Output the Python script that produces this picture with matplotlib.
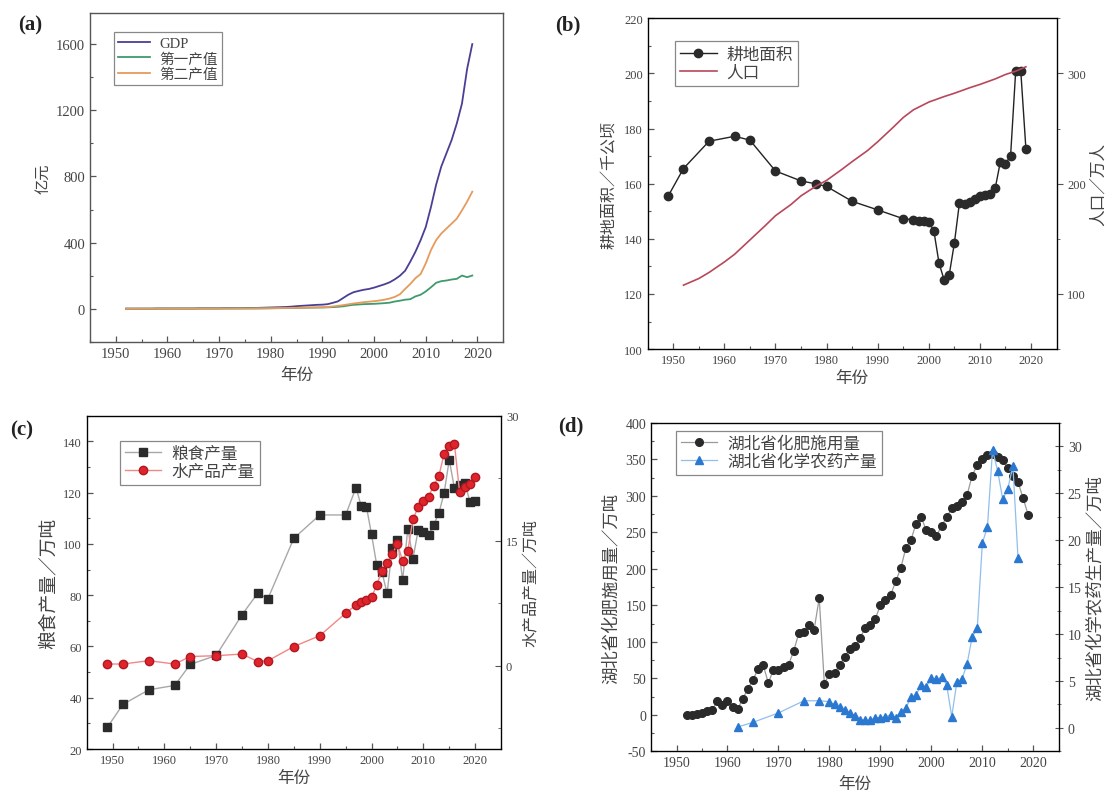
import numpy as np
import matplotlib.pyplot as plt
from matplotlib.ticker import MultipleLocator

plt.rcParams['font.family'] = ['Liberation Serif', 'Noto Sans CJK SC']
plt.rcParams['axes.unicode_minus'] = False

# (a) GDP and sector output, 亿元
years_a = list(range(1952, 2020))
gdp = [1, 1, 1, 1, 1, 1, 2, 2, 2, 2,
       2, 2, 2, 2, 3, 3, 3, 3, 3, 4,
       4, 4, 4, 5, 5, 5, 6, 7, 8, 9,
       10, 11, 13, 16, 18, 20, 22, 24, 25, 28,
       36, 45, 65, 85, 100, 108, 115, 120, 128, 138,
       148, 160, 178, 200, 230, 285, 345, 415, 495, 615,
       750, 860, 940, 1020, 1120, 1240, 1450, 1600]
primary = [0.5, 0.5, 0.6, 0.6, 0.7, 0.7, 0.8, 0.8, 0.8, 0.9,
           0.9, 1, 1, 1.1, 1.1, 1.2, 1.2, 1.3, 1.3, 1.4,
           1.4, 1.5, 1.6, 1.7, 1.8, 1.9, 2, 2.5, 3, 3.5,
           4, 4.5, 5, 5.5, 6, 6.5, 7, 7.5, 8, 9,
           10, 12, 15, 20, 24, 26, 28, 29, 30, 32,
           34, 37, 44, 49, 55, 58, 75, 85, 105, 130,
           157, 167, 171, 177, 181, 201, 191, 201]
secondary = [0.3, 0.3, 0.4, 0.4, 0.5, 0.5, 0.8, 0.9, 0.9, 0.7,
             0.7, 0.8, 0.9, 1, 1.1, 1.1, 1.1, 1.3, 1.5, 1.7,
             1.8, 2, 2.1, 2.3, 2.4, 2.6, 3, 3.3, 3.6, 4,
             4.5, 5, 5.5, 6, 6.5, 7, 8, 8.5, 9, 10,
             14, 18, 22, 27, 32, 36, 40, 43, 46, 50,
             55, 62, 72, 88, 120, 150, 185, 210, 275, 355,
             415, 455, 485, 515, 545, 595, 648, 708]

# (b) cultivated land (千公顷) and population (万人)
land_years = [1949, 1952, 1957, 1962, 1965, 1970, 1975, 1978, 1980, 1985,
              1990, 1995, 1997, 1998, 1999, 2000, 2001, 2002, 2003, 2004,
              2005, 2006, 2007, 2008, 2009, 2010, 2011, 2012, 2013, 2014,
              2015, 2016, 2017, 2018, 2019]
land = [155.5, 165.5, 175.4, 177.2, 175.8, 164.6, 161, 159.9, 159, 153.6,
        150.5, 147.3, 146.9, 146.5, 146.3, 146.2, 142.8, 131.2, 125.1, 127,
        138.4, 153.1, 152.7, 153.3, 154.3, 155.5, 156, 156.4, 158.4, 167.9,
        167.3, 170, 200.8, 200.8, 172.7]
pop_years = [1952, 1955, 1957, 1960, 1962, 1965, 1968, 1970, 1973, 1975,
             1978, 1980, 1983, 1985, 1988, 1990, 1993, 1995, 1997, 2000,
             2003, 2005, 2008, 2010, 2013, 2015, 2017, 2019]
pop = [108, 114, 119.5, 129, 136, 149, 162, 171, 181, 189,
       198, 203, 213, 220, 230, 238, 251, 260, 267, 274,
       279, 282, 287, 290, 295, 299, 302, 306]

# (c) grain (万吨) and aquatic products (万吨)
food_years = [1949, 1952, 1957, 1962, 1965, 1970, 1975, 1978, 1980, 1985,
              1990, 1995, 1997, 1998, 1999, 2000, 2001, 2002, 2003, 2004,
              2005, 2006, 2007, 2008, 2009, 2010, 2011, 2012, 2013, 2014,
              2015, 2016, 2017, 2018, 2019, 2020]
grain = [28.5, 37.4, 43.1, 44.8, 53, 56.5, 72.4, 80.7, 78.7, 102.2,
         111.3, 111.3, 122, 114.8, 114.6, 103.7, 91.7, 89, 80.7, 98.5,
         101.5, 85.9, 106, 94.3, 105.4, 104.5, 103.5, 107.5, 112, 119.8,
         132.8, 121.7, 123, 123.7, 116.5, 116.8]
fish = [0.2, 0.2, 0.6, 0.2, 1.1, 1.2, 1.4, 0.5, 0.6, 2.3,
        3.6, 6.3, 7.3, 7.7, 7.9, 8.2, 9.7, 11.4, 12.3, 13.4,
        14.6, 12.6, 13.8, 17.6, 19, 19.8, 20.3, 21.6, 22.8, 25.4,
        26.4, 26.6, 20.8, 21.4, 21.8, 22.6]

# (d) fertilizer use (万吨) and pesticide production (万吨)
fert_years = list(range(1952, 2020))
fert = [0, 0, 1, 3, 5, 7, 18.5, 14, 18.5, 10.6,
        8.3, 22, 36, 48, 63, 68.5, 44, 61.6, 61.6, 65,
        69, 88, 112, 114, 123, 117, 160, 43, 56, 58,
        68, 80, 90, 94, 105, 119, 123, 132, 150, 157,
        164, 183, 201, 229, 240, 262, 271, 253, 250, 245,
        259, 271, 283, 286, 292, 301, 328, 342, 351, 356,
        358, 354, 349, 338, 328, 319, 297, 274]
pest_years = [1962, 1965, 1970, 1975, 1978, 1980, 1981, 1982, 1983, 1984,
              1985, 1986, 1987, 1988, 1989, 1990, 1991, 1992, 1993, 1994,
              1995, 1996, 1997, 1998, 1999, 2000, 2001, 2002, 2003, 2004,
              2005, 2006, 2007, 2008, 2009, 2010, 2011, 2012, 2013, 2014,
              2015, 2016, 2017]
pest = [0.1, 0.6, 1.6, 2.9, 2.9, 2.8, 2.5, 2.2, 1.9, 1.6,
        1.3, 0.9, 0.8, 0.8, 1.1, 1.1, 1.2, 1.4, 1.1, 1.7,
        2.1, 3.3, 3.5, 4.6, 4.4, 5.3, 5.2, 5.4, 4.6, 1.2,
        4.9, 5.2, 6.8, 9.7, 10.6, 19.7, 21.4, 29.6, 27.4, 24.4,
        25.5, 27.9, 18.1]

TXT = '#444444'


def style(ax, size):
    ax.tick_params(which='both', direction='in', labelsize=size, colors='#555555',
                   labelcolor=TXT)
    ax.tick_params(which='major', length=4, width=0.9)
    ax.tick_params(which='minor', length=2.5, width=0.8)
    for s in ax.spines.values():
        s.set_color('#555555')
        s.set_linewidth(1.0)
    ax.set_xlim(1945, 2025)
    ax.xaxis.set_major_locator(MultipleLocator(10))
    ax.xaxis.set_minor_locator(MultipleLocator(5))


def legend(ax, handles, labels, anchor, size):
    lg = ax.legend(handles, labels, loc='upper left', bbox_to_anchor=anchor,
                   fontsize=size, frameon=True, fancybox=False, framealpha=1,
                   edgecolor='#888888', borderpad=0.3, labelspacing=0.15,
                   handlelength=2.2, handletextpad=0.6, borderaxespad=0)
    for t in lg.get_texts():
        t.set_color(TXT)
    lg.get_frame().set_linewidth(0.9)


fig = plt.figure(figsize=(11.11, 8.03), dpi=100)

# ---------------- (a)
ax = fig.add_axes([0.081, 0.573, 0.372, 0.410])
style(ax, 10.5)
la, = ax.plot(years_a, gdp, color='#4b3f94', lw=1.3)
lb, = ax.plot(years_a, primary, color='#3f9a6e', lw=1.3)
lc, = ax.plot(years_a, secondary, color='#e69a5c', lw=1.3)
ax.set_ylim(-200, 1790)
ax.yaxis.set_major_locator(MultipleLocator(400))
ax.yaxis.set_minor_locator(MultipleLocator(200))
ax.set_xlabel('年份', fontsize=12, color=TXT, labelpad=5)
ax.set_ylabel('亿元', fontsize=11, color=TXT)
legend(ax, [la, lb, lc], ['GDP', '第一产值', '第二产值'], (0.058, 0.94), 10.5)
fig.text(0.016, 0.962, '(a)', fontsize=15, fontweight='bold', color='#222222')

# ---------------- (b)
ax = fig.add_axes([0.583, 0.564, 0.368, 0.412])
style(ax, 9)
l1, = ax.plot(land_years, land, color='#222222', lw=1.0, marker='o', ms=6,
              mfc='#2a2a2a', mec='#2a2a2a')
ax.set_ylim(100, 220)
ax.yaxis.set_major_locator(MultipleLocator(20))
ax.yaxis.set_minor_locator(MultipleLocator(10))
ax.set_xlabel('年份', fontsize=12, color=TXT, labelpad=3)
ax.set_ylabel('耕地面积／千公顷', fontsize=11.5, color=TXT)
ax2 = ax.twinx()
l2, = ax2.plot(pop_years, pop, color='#b8475a', lw=1.2)
ax2.set_ylim(50, 350)
ax2.yaxis.set_major_locator(MultipleLocator(100))
ax2.yaxis.set_minor_locator(MultipleLocator(50))
ax2.tick_params(which='both', direction='out', labelsize=9, colors='#555555', labelcolor=TXT)
ax2.tick_params(which='major', length=4)
ax2.tick_params(which='minor', length=2.5)
ax2.set_ylabel('人口／万人', fontsize=12, color=TXT)
legend(ax2, [l1, l2], ['耕地面积', '人口'], (0.067, 0.93), 12)
fig.text(0.5, 0.962, '(b)', fontsize=15, fontweight='bold', color='#222222')

# ---------------- (c)
ax = fig.add_axes([0.078, 0.066, 0.373, 0.415])
style(ax, 9)
l1, = ax.plot(food_years, grain, color='#a8a8a8', lw=1.0, marker='s', ms=6,
              mfc='#2b2b2b', mec='#2b2b2b')
ax.set_ylim(20, 150)
ax.yaxis.set_major_locator(MultipleLocator(20))
ax.yaxis.set_minor_locator(MultipleLocator(10))
ax.set_xlabel('年份', fontsize=12, color=TXT, labelpad=3)
ax.set_ylabel('粮食产量／万吨', fontsize=13.5, color=TXT)
ax2 = ax.twinx()
l2, = ax2.plot(food_years, fish, color='#f08888', lw=1.0, marker='o', ms=6,
               mfc='#e0242c', mec='#b01820')
ax2.set_ylim(-10, 30)
ax2.yaxis.set_major_locator(MultipleLocator(15))
ax2.yaxis.set_minor_locator(MultipleLocator(7.5))
ax2.tick_params(which='both', direction='in', labelsize=9, colors='#555555', labelcolor=TXT)
ax2.tick_params(which='major', length=4)
ax2.tick_params(which='minor', length=2.5)
ax2.set_ylabel('水产品产量／万吨', fontsize=11.5, color=TXT)
legend(ax2, [l1, l2], ['粮食产量', '水产品产量'], (0.08, 0.925), 12)
fig.text(0.009, 0.458, '(c)', fontsize=15, fontweight='bold', color='#222222')

# ---------------- (d)
ax = fig.add_axes([0.586, 0.063, 0.367, 0.409])
style(ax, 10)
l1, = ax.plot(fert_years, fert, color='#9a9a9a', lw=0.9, marker='o', ms=5.5,
              mfc='#2a2a2a', mec='#2a2a2a')
ax.set_ylim(-50, 400)
ax.yaxis.set_major_locator(MultipleLocator(50))
ax.yaxis.set_minor_locator(MultipleLocator(25))
ax.set_xlabel('年份', fontsize=12, color=TXT, labelpad=5)
ax.set_ylabel('湖北省化肥施用量／万吨', fontsize=12.5, color=TXT)
ax2 = ax.twinx()
l2, = ax2.plot(pest_years, pest, color='#8fbfee', lw=0.9, marker='^', ms=6,
               mfc='#2b78d0', mec='#2b78d0')
ax2.set_ylim(-2.5, 32.5)
ax2.yaxis.set_major_locator(MultipleLocator(5))
ax2.yaxis.set_minor_locator(MultipleLocator(2.5))
ax2.tick_params(which='both', direction='inout', labelsize=10, colors='#555555', labelcolor=TXT)
ax2.tick_params(which='major', length=6)
ax2.tick_params(which='minor', length=3)
ax2.set_ylabel('湖北省化学农药生产量／万吨', fontsize=12.5, color=TXT)
legend(ax2, [l1, l2], ['湖北省化肥施用量', '湖北省化学农药产量'], (0.06, 0.977), 12)
fig.text(0.502, 0.463, '(d)', fontsize=15, fontweight='bold', color='#222222')

fig.savefig('out.png', dpi=100, facecolor='white')
